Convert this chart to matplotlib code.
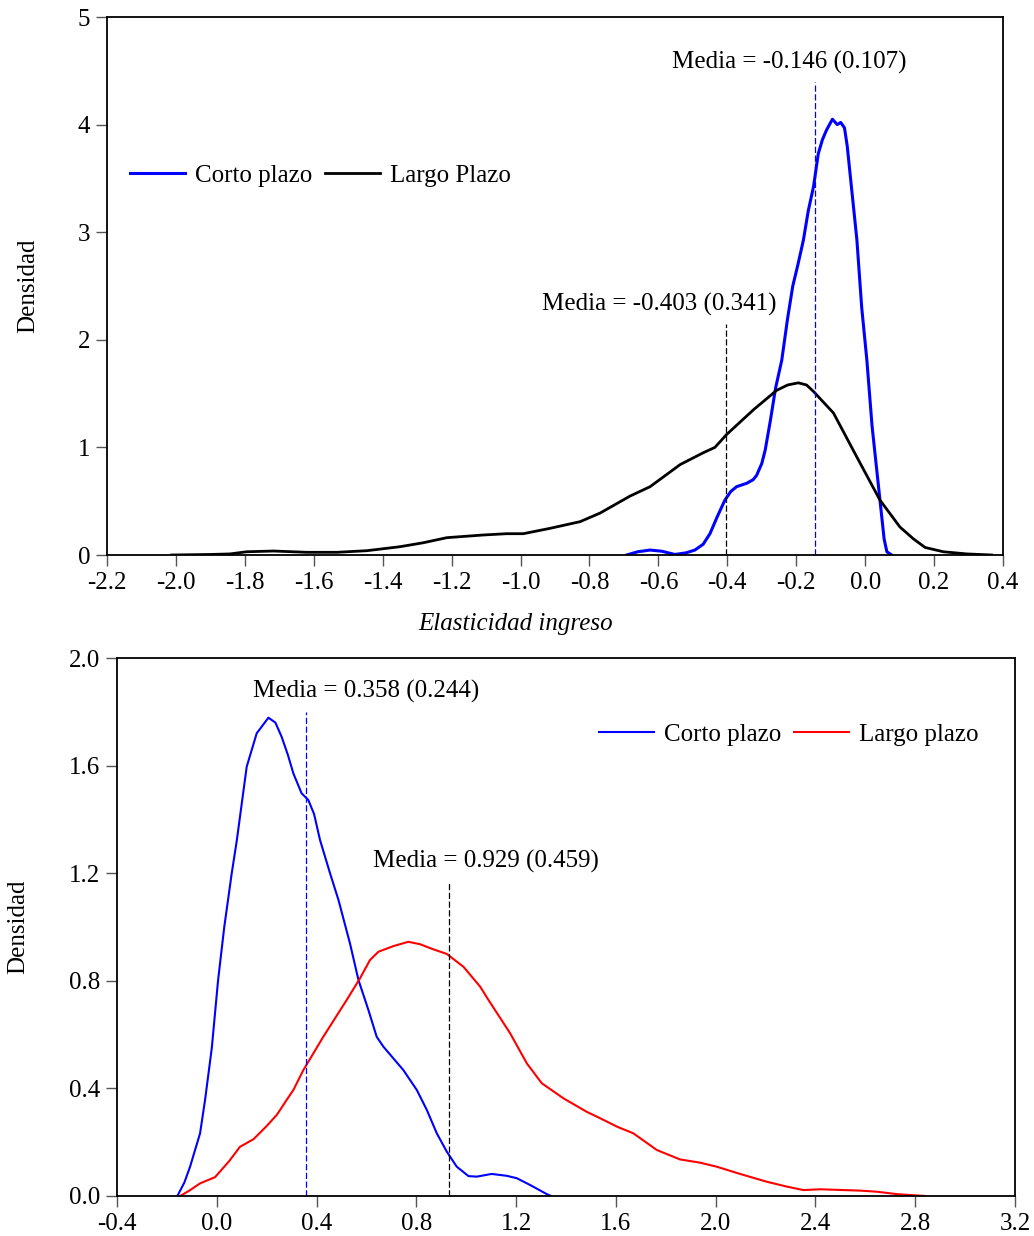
import matplotlib
matplotlib.use("Agg")
import matplotlib.pyplot as plt

plt.rcParams["font.family"] = ["Liberation Serif", "DejaVu Serif"]
plt.rcParams["axes.unicode_minus"] = False

# ---- panel 1: elasticidad ingreso ----
top_corto_x = [-0.692, -0.66, -0.624, -0.59, -0.552, -0.52, -0.494, -0.47, -0.45, -0.43,
               -0.407, -0.39, -0.373, -0.344, -0.325, -0.315, -0.30, -0.29, -0.275, -0.26,
               -0.242, -0.225, -0.21, -0.195, -0.179, -0.165, -0.15, -0.136, -0.124, -0.112,
               -0.095, -0.081, -0.071, -0.060, -0.052, -0.044, -0.024, -0.01, 0.005, 0.02,
               0.043, 0.055, 0.063, 0.077]
top_corto_y = [0.0, 0.03, 0.046, 0.035, 0.005, 0.02, 0.046, 0.1, 0.2, 0.35,
               0.51, 0.59, 0.635, 0.666, 0.7, 0.74, 0.85, 0.976, 1.25, 1.55,
               1.81, 2.2, 2.5, 2.7, 2.93, 3.2, 3.42, 3.73, 3.86, 3.95,
               4.05, 4.0, 4.02, 3.97, 3.8, 3.55, 2.93, 2.3, 1.81, 1.2,
               0.51, 0.15, 0.03, 0.0]
top_largo_x = [-2.012, -1.9, -1.843, -1.795, -1.717, -1.62, -1.533, -1.446, -1.35, -1.282,
               -1.214, -1.108, -1.04, -0.992, -0.914, -0.827, -0.769, -0.682, -0.624, -0.537,
               -0.47, -0.436, -0.402, -0.324, -0.257, -0.225, -0.194, -0.17, -0.15, -0.092,
               -0.024, 0.043, 0.101, 0.14, 0.174, 0.227, 0.295, 0.367]
top_largo_y = [0.0, 0.005, 0.01, 0.03, 0.037, 0.025, 0.025, 0.04, 0.077, 0.114,
               0.161, 0.186, 0.198, 0.198, 0.248, 0.31, 0.39, 0.548, 0.635, 0.84,
               0.95, 1.0, 1.12, 1.35, 1.53, 1.58, 1.60, 1.58, 1.52, 1.32,
               0.91, 0.51, 0.26, 0.15, 0.07, 0.03, 0.01, 0.0]
top_mean_largo, top_sd_largo = -0.403, 0.341
top_mean_corto, top_sd_corto = -0.146, 0.107
top_xticks = [-2.2, -2.0, -1.8, -1.6, -1.4, -1.2, -1.0, -0.8, -0.6, -0.4, -0.2, 0.0, 0.2, 0.4]
top_yticks = [0, 1, 2, 3, 4, 5]

# ---- panel 2 ----
bot_corto_x = [-0.158, -0.13, -0.107, -0.067, -0.047, -0.02, 0.005, 0.03, 0.06, 0.08,
               0.12, 0.16, 0.207, 0.235, 0.26, 0.285, 0.307, 0.34, 0.367, 0.39,
               0.414, 0.454, 0.488, 0.534, 0.568, 0.608, 0.641, 0.668, 0.748, 0.802,
               0.842, 0.882, 0.922, 0.962, 1.009, 1.042, 1.102, 1.163, 1.203, 1.256,
               1.323, 1.34]
bot_corto_y = [0.0, 0.05, 0.109, 0.233, 0.357, 0.55, 0.8, 1.0, 1.2, 1.32,
               1.596, 1.72, 1.778, 1.76, 1.707, 1.64, 1.571, 1.497, 1.472, 1.42,
               1.323, 1.2, 1.1, 0.939, 0.803, 0.691, 0.592, 0.555, 0.468, 0.394,
               0.32, 0.233, 0.165, 0.109, 0.074, 0.072, 0.082, 0.075, 0.066, 0.041,
               0.007, 0.0]
bot_largo_x = [-0.147, -0.11, -0.067, -0.007, 0.05, 0.093, 0.147, 0.2, 0.24, 0.254,
               0.28, 0.307, 0.347, 0.427, 0.521, 0.574, 0.614, 0.648, 0.708, 0.768,
               0.815, 0.868, 0.922, 0.989, 1.056, 1.089, 1.176, 1.243, 1.303, 1.39,
               1.483, 1.537, 1.604, 1.67, 1.764, 1.857, 1.937, 2.004, 2.098, 2.205,
               2.285, 2.352, 2.419, 2.579, 2.646, 2.726, 2.84]
bot_largo_y = [0.0, 0.02, 0.047, 0.07, 0.13, 0.183, 0.211, 0.26, 0.301, 0.32,
               0.357, 0.394, 0.468, 0.592, 0.729, 0.809, 0.877, 0.908, 0.929, 0.945,
               0.936, 0.917, 0.9, 0.852, 0.778, 0.729, 0.605, 0.493, 0.419, 0.363,
               0.313, 0.289, 0.258, 0.233, 0.171, 0.136, 0.124, 0.109, 0.082, 0.053,
               0.035, 0.022, 0.025, 0.02, 0.016, 0.007, 0.0]
bot_mean_corto, bot_sd_corto = 0.358, 0.244
bot_mean_largo, bot_sd_largo = 0.929, 0.459
bot_xticks = [-0.4, 0.0, 0.4, 0.8, 1.2, 1.6, 2.0, 2.4, 2.8, 3.2]
bot_yticks = [0.0, 0.4, 0.8, 1.2, 1.6, 2.0]

FS = 18


def style_axes(ax):
    for sp in ax.spines.values():
        sp.set_linewidth(1.3)
        sp.set_color("black")
    ax.tick_params(axis="both", direction="out", length=8, width=1.0, color="#555555",
                   labelsize=FS, pad=4, top=False, right=False)


fig = plt.figure(figsize=(10.34, 12.36), dpi=100)

# top panel
ax1 = fig.add_axes([107 / 1034, 1 - 555 / 1236, 896 / 1034, 538 / 1236])
ax1.plot(top_corto_x, top_corto_y, color="blue", lw=2.2, label="Corto plazo")
ax1.plot(top_largo_x, top_largo_y, color="black", lw=2.0, label="Largo Plazo")
ax1.vlines(top_mean_largo, 0, 2.15, colors="black", linestyles=(0, (5, 2)), lw=0.9)
ax1.vlines(top_mean_corto, 0, 4.4, colors="blue", linestyles=(0, (5, 2)), lw=0.9)
ax1.text(-0.598, 2.33, f"Media = {top_mean_largo:.3f} ({top_sd_largo:.3f})",
         ha="center", va="center", fontsize=FS)
ax1.text(-0.221, 4.58, f"Media = {top_mean_corto:.3f} ({top_sd_corto:.3f})",
         ha="center", va="center", fontsize=FS)
ax1.set_xlim(-2.2, 0.4)
ax1.set_ylim(0, 5)
ax1.set_xticks(top_xticks)
ax1.set_xticklabels([f"{v:.1f}" for v in top_xticks])
ax1.set_yticks(top_yticks)
ax1.set_ylabel("Densidad", fontsize=FS)
ax1.yaxis.set_label_coords(-0.076, 0.5)
ax1.set_xlabel("Elasticidad ingreso", fontsize=FS, style="italic")
ax1.xaxis.set_label_coords(0.456, -0.108)
style_axes(ax1)
ax1.legend(loc="center left", bbox_to_anchor=(0.0257, 0.705), ncol=2, frameon=False,
           fontsize=FS, handlelength=2.2, handletextpad=0.4, columnspacing=0.5,
           borderpad=0, borderaxespad=0)

# bottom panel
ax2 = fig.add_axes([117 / 1034, 1 - 1196 / 1236, 898 / 1034, 538 / 1236])
ax2.plot(bot_corto_x, bot_corto_y, color="blue", lw=1.5, label="Corto plazo")
ax2.plot(bot_largo_x, bot_largo_y, color="red", lw=1.5, label="Largo plazo")
ax2.vlines(bot_mean_corto, 0, 1.80, colors="blue", linestyles=(0, (5, 2)), lw=0.9)
ax2.vlines(bot_mean_largo, 0, 1.17, colors="black", linestyles=(0, (5, 2)), lw=0.9)
ax2.text(0.598, 1.877, f"Media = {bot_mean_corto:.3f} ({bot_sd_corto:.3f})",
         ha="center", va="center", fontsize=FS)
ax2.text(1.08, 1.245, f"Media = {bot_mean_largo:.3f} ({bot_sd_largo:.3f})",
         ha="center", va="center", fontsize=FS)
ax2.set_xlim(-0.4, 3.2)
ax2.set_ylim(0, 2.0)
ax2.set_xticks(bot_xticks)
ax2.set_xticklabels([f"{v:.1f}" for v in bot_xticks])
ax2.set_yticks(bot_yticks)
ax2.set_yticklabels([f"{v:.1f}" for v in bot_yticks])
ax2.set_ylabel("Densidad", fontsize=FS)
ax2.yaxis.set_label_coords(-0.098, 0.5)
style_axes(ax2)
ax2.legend(loc="center right", bbox_to_anchor=(0.959, 0.857), ncol=2, frameon=False,
           fontsize=FS, handlelength=2.2, handletextpad=0.4, columnspacing=0.5,
           borderpad=0, borderaxespad=0)

fig.savefig("out.png", dpi=100)
